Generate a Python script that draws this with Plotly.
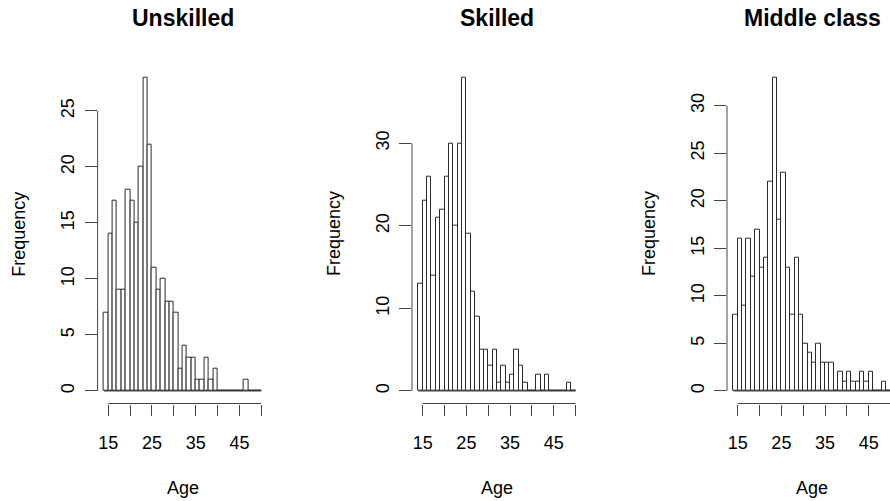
import plotly.graph_objects as go

# ---- data ----
bin_edges = [14, 15, 16, 17, 18, 19, 20, 21, 22, 23, 24, 25, 26, 27, 28, 29, 30, 31,
             32, 33, 34, 35, 36, 37, 38, 39, 40, 41, 42, 43, 44, 45, 46, 47, 48, 49, 50]

unskilled = [7, 14, 17, 9, 9, 18, 17, 15, 20, 28, 22, 11, 9, 10, 8, 8, 7, 2,
             4, 3, 3, 1, 1, 3, 1, 2, 0, 0, 0, 0, 0, 0, 1, 0, 0, 0]
skilled = [13, 23, 26, 14, 21, 22, 26, 30, 20, 30, 38, 19, 12, 9, 5, 5, 3, 5,
           1, 3, 1, 2, 5, 3, 1, 0, 0, 2, 0, 2, 0, 0, 0, 0, 1, 0]
middle_class = [8, 16, 9, 16, 12, 17, 13, 14, 22, 33, 18, 23, 13, 8, 14, 8, 5, 4,
                3, 5, 3, 3, 3, 0, 2, 1, 2, 1, 1, 2, 1, 2, 0, 0, 1, 0]

titles = ["Unskilled", "Skilled", "Middle class"]
y_dticks = [5, 10, 5]
x_tickvals = [15, 20, 25, 30, 35, 40, 45, 50]
x_ticktext = ["15", "", "25", "", "35", "", "45", ""]
x_label = "Age"
y_label = "Frequency"

series = [unskilled, skilled, middle_class]

# ---- layout geometry (pixels) ----
W, H = 890, 501
panel_left = [97.6, 412.0, 727.0]
panel_w = 170.0
plot_top, plot_bottom = 64.7, 403.5
FONT = "Liberation Sans, Arial, sans-serif"
LINE = "#2a2a2a"

bin_mid = [(a + b) / 2 for a, b in zip(bin_edges[:-1], bin_edges[1:])]
xlo = bin_edges[0] - 0.04 * (bin_edges[-1] - bin_edges[0])
xhi = bin_edges[-1] + 0.04 * (bin_edges[-1] - bin_edges[0])

fig = go.Figure()
shapes = []
annotations = []
ydom = [(H - plot_bottom) / H, (H - plot_top) / H]

for i, (vals, title, dt) in enumerate(zip(series, titles, y_dticks)):
    n = "" if i == 0 else str(i + 1)
    xr, yr = "x" + n, "y" + n
    left = panel_left[i]
    right = min(left + panel_w, W)
    frac = (right - left) / panel_w
    x_range = [xlo, xlo + frac * (xhi - xlo)]
    ymax = max(vals)
    y_range = [-0.04 * ymax, 1.04 * ymax]
    last_tick = (int(y_range[1]) // dt) * dt

    fig.add_trace(go.Bar(
        x=bin_mid, y=vals, width=1, xaxis=xr, yaxis=yr,
        marker=dict(color="white", line=dict(color=LINE, width=1)),
        showlegend=False, hoverinfo="x+y",
    ))

    fig.layout["xaxis" + n] = dict(
        domain=[left / W, right / W], range=x_range, anchor=yr,
        showline=False, showgrid=False, zeroline=False,
        ticks="outside", ticklen=11, tickwidth=1, tickcolor="#444",
        tickmode="array", tickvals=x_tickvals, ticktext=x_ticktext,
        tickfont=dict(family=FONT, size=18, color="black"),
        ticklabelstandoff=12,
    )
    fig.layout["yaxis" + n] = dict(
        domain=ydom, range=y_range, anchor=xr,
        showline=False, showgrid=False, zeroline=False,
        ticks="outside", ticklen=12, tickwidth=1, tickcolor="#444",
        tick0=0, dtick=dt, tickangle=-90,
        tickfont=dict(family=FONT, size=18, color="black"),
        ticklabelstandoff=3,
    )

    # baseline under the bars
    shapes.append(dict(type="line", xref=xr, yref=yr,
                       x0=bin_edges[0], x1=bin_edges[-1], y0=0, y1=0,
                       line=dict(color=LINE, width=1)))
    # R-style axis lines (span first..last tick)
    shapes.append(dict(type="line", xref=xr, yref="paper",
                       x0=x_tickvals[0], x1=x_tickvals[-1], y0=ydom[0], y1=ydom[0],
                       line=dict(color="#444", width=1)))
    shapes.append(dict(type="line", xref="paper", yref=yr,
                       x0=left / W, x1=left / W, y0=0, y1=last_tick,
                       line=dict(color="#444", width=1)))

    xc = (xlo + xhi) / 2
    annotations.append(dict(text="<b>" + title + "</b>", xref=xr, yref="paper",
                            x=xc, y=(H - 18) / H, showarrow=False,
                            xanchor="center", yanchor="middle",
                            font=dict(family=FONT, size=23, color="black")))
    annotations.append(dict(text=x_label, xref=xr, yref="paper",
                            x=xc, y=(H - 488) / H, showarrow=False,
                            xanchor="center", yanchor="middle",
                            font=dict(family=FONT, size=18, color="black")))
    annotations.append(dict(text=y_label, xref="paper", yref="paper",
                            x=(left - 78) / W, y=(ydom[0] + ydom[1]) / 2,
                            showarrow=False, textangle=-90,
                            xanchor="center", yanchor="middle",
                            font=dict(family=FONT, size=18, color="black")))

fig.update_layout(
    width=W, height=H, autosize=False,
    margin=dict(l=0, r=0, t=0, b=0),
    paper_bgcolor="white", plot_bgcolor="white",
    shapes=shapes, annotations=annotations,
    bargap=0,
)

fig.write_html(
    "out.html",
    config={"displayModeBar": False},
    post_script="document.body.style.margin='0px';document.body.style.padding='0px';",
)
